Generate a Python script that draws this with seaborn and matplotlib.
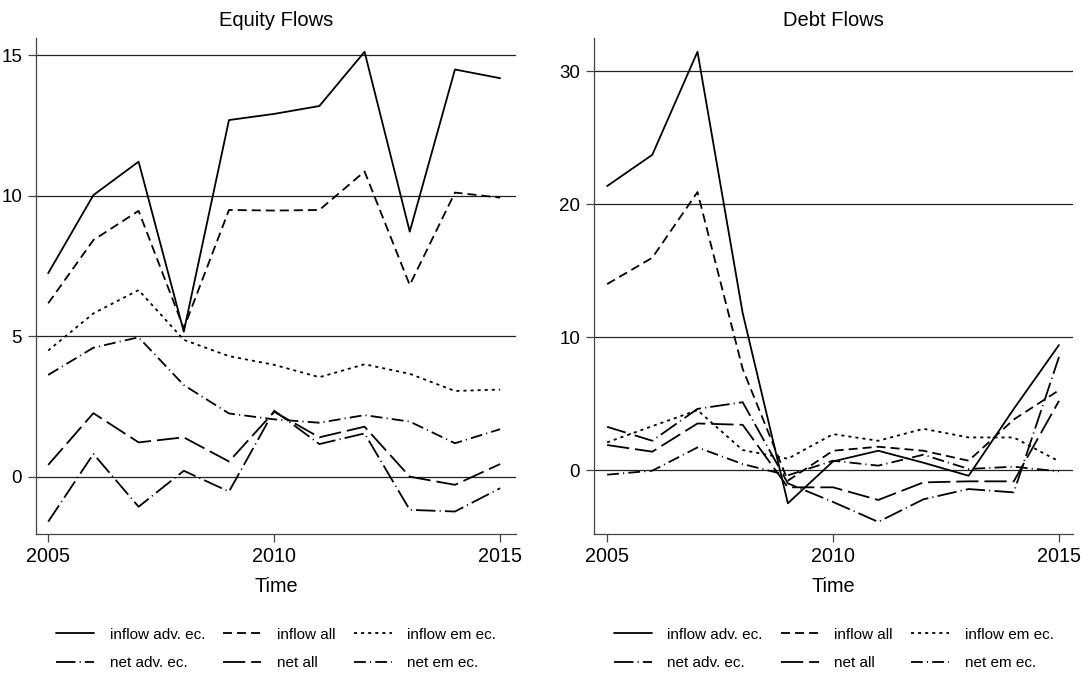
import numpy as np
import pandas as pd
import matplotlib
matplotlib.use("Agg")
import matplotlib.pyplot as plt
import seaborn as sns

# Years on the x axis
years = list(range(2005, 2016))
series_names = ["inflow adv. ec.", "inflow all", "inflow em ec.",
                "net adv. ec.", "net all", "net em ec."]

# Equity flows
eq_inflow_adv = [7.25, 10.03, 11.22, 5.17, 12.70, 12.92, 13.20, 15.13, 8.73, 14.50, 14.19]
eq_inflow_all = [6.18, 8.43, 9.47, 5.29, 9.50, 9.48, 9.50, 10.87, 6.83, 10.12, 9.94]
eq_inflow_em = [4.50, 5.82, 6.65, 4.88, 4.30, 3.99, 3.55, 4.01, 3.67, 3.06, 3.11]
eq_net_adv = [-1.59, 0.82, -1.06, 0.22, -0.52, 2.36, 1.17, 1.55, -1.17, -1.23, -0.40]
eq_net_all = [0.43, 2.27, 1.23, 1.41, 0.55, 2.32, 1.41, 1.79, 0.01, -0.28, 0.46]
eq_net_em = [3.63, 4.60, 4.97, 3.27, 2.26, 2.05, 1.93, 2.20, 1.97, 1.20, 1.70]

# Debt flows
dt_inflow_adv = [21.35, 23.70, 31.45, 11.80, -2.50, 0.65, 1.45, 0.55, -0.43, 4.60, 9.40]
dt_inflow_all = [13.98, 15.96, 20.90, 7.60, -0.80, 1.45, 1.75, 1.45, 0.70, 3.80, 6.00]
dt_inflow_em = [2.08, 3.30, 4.50, 1.50, 0.85, 2.70, 2.20, 3.10, 2.45, 2.45, 0.65]
dt_net_adv = [3.25, 2.20, 4.60, 5.10, -1.00, -2.40, -3.90, -2.20, -1.43, -1.68, 8.50]
dt_net_all = [1.88, 1.38, 3.50, 3.40, -1.30, -1.30, -2.25, -0.93, -0.85, -0.85, 5.20]
dt_net_em = [-0.35, -0.05, 1.70, 0.45, -0.40, 0.70, 0.33, 1.15, 0.08, 0.25, -0.10]

equity = [eq_inflow_adv, eq_inflow_all, eq_inflow_em, eq_net_adv, eq_net_all, eq_net_em]
debt = [dt_inflow_adv, dt_inflow_all, dt_inflow_em, dt_net_adv, dt_net_all, dt_net_em]

# Stata-like monochrome line patterns (points)
dash_map = {
    "inflow adv. ec.": "",
    "inflow all": (6.5, 3.6),
    "inflow em ec.": (2.2, 2.9),
    "net adv. ec.": (14, 3, 0.8, 3),
    "net all": (16, 4.3),
    "net em ec.": (8.5, 3, 0.8, 3),
}


def to_long(values):
    rows = []
    for name, vals in zip(series_names, values):
        for y, v in zip(years, vals):
            rows.append({"Time": y, "value": v, "series": name})
    return pd.DataFrame(rows)


sns.set_style("white")
plt.rcParams["font.family"] = ["Liberation Sans", "DejaVu Sans"]
plt.rcParams["lines.scale_dashes"] = False
for key in ["text.color", "axes.labelcolor", "xtick.labelcolor", "ytick.labelcolor"]:
    plt.rcParams[key] = "black"

fig = plt.figure(figsize=(10.81, 6.74), dpi=100)
ax1 = fig.add_axes([0.0333, 0.2077, 0.444, 0.7359])
ax2 = fig.add_axes([0.5495, 0.2077, 0.4431, 0.7359])

panels = [
    (ax1, equity, "Equity Flows", [0, 5, 10, 15], (-2.03, 15.62), (2004.73, 2015.35)),
    (ax2, debt, "Debt Flows", [0, 10, 20, 30], (-4.81, 32.48), (2004.71, 2015.31)),
]

# row-wise legend order for a 3-column legend
legend_order = [0, 3, 1, 4, 2, 5]

for ax, values, title, yt, ylim, xlim in panels:
    df = to_long(values)
    for yv in yt:
        ax.axhline(yv, color="#222222", lw=0.9, zorder=0)
    sns.lineplot(data=df, x="Time", y="value", style="series", dashes=dash_map,
                 style_order=series_names, color="black", linewidth=1.3,
                 ax=ax, legend=True)
    ax.set_xlim(*xlim)
    ax.set_ylim(*ylim)
    ax.set_xticks([2005, 2010, 2015])
    ax.set_yticks(yt)
    ax.set_title(title, fontsize=14.5, pad=9)
    ax.set_xlabel("Time", fontsize=14.3, labelpad=8)
    ax.set_ylabel("")
    ax.tick_params(axis="x", labelsize=14.2, length=6, width=0.9, color="#444444",
                   direction="out", bottom=True, pad=3)
    ax.tick_params(axis="y", labelsize=13.5, length=6, width=0.9, color="#444444",
                   direction="out", left=True, pad=4)
    for side in ["top", "right"]:
        ax.spines[side].set_visible(False)
    for side in ["left", "bottom"]:
        ax.spines[side].set_color("#444444")
        ax.spines[side].set_linewidth(0.9)
    handles, labels = ax.get_legend_handles_labels()
    handles = [handles[i] for i in legend_order]
    labels = [labels[i] for i in legend_order]
    ax.legend(handles, labels, loc="center", bbox_to_anchor=(0.5, -0.232),
              ncol=3, frameon=False, fontsize=11, handlelength=2.5,
              handletextpad=1.0, columnspacing=1.2, labelspacing=0.95)

fig.savefig("out.png", dpi=100)
